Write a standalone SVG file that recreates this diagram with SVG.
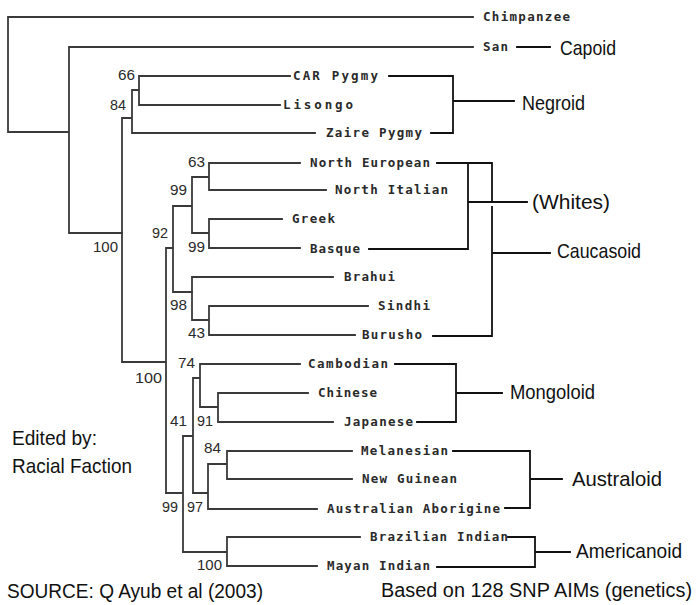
<svg xmlns="http://www.w3.org/2000/svg" width="698" height="605" viewBox="0 0 698 605">
<style>
.tree{fill:none;stroke:#3a3a3a;stroke-width:1.8;stroke-linecap:square}
.br{fill:none;stroke:#111;stroke-width:1.8;stroke-linecap:square}
.leaf{font-family:"DejaVu Sans Mono","Liberation Mono",monospace;font-size:12.5px;font-weight:bold;fill:#2a2a2a}
.num{font-family:"Liberation Sans","DejaVu Sans",sans-serif;font-size:14px;fill:#2a2a2a}
.grp{font-family:"Liberation Sans","DejaVu Sans",sans-serif;font-size:21px;fill:#111}
.note{font-family:"Liberation Sans","DejaVu Sans",sans-serif;font-size:20px;fill:#111}
</style>
<rect width="698" height="605" fill="#fff"/>
<g id="connectors">
<path class="tree" d="M8,17H473M8,17V132H69M69,47H473M69,47V233H122"/>
<path class="tree" d="M122,118V362M122,118H132M132,90V133M132,90H139M139,76V105M139,76H290M139,105H280M132,133H315"/>
<path class="tree" d="M122,362H166M166,248V493M166,248H173M173,206V292M173,206H192M173,292H192M192,177V233M192,177H209M192,233H209M209,163V190M209,219V248M209,163H300M209,190H326M209,219H282M209,248H300"/>
<path class="tree" d="M192,277V320M192,277H333M192,320H209M209,306V335M209,306H368M209,335H355"/>
<path class="tree" d="M166,493H183M183,436V552M183,436H193M193,378V493M193,378H200M200,364V407M200,364H300M200,407H218M218,393V422M218,393H308M218,422H333"/>
<path class="tree" d="M193,493H208M208,464V509M208,464H227M227,451V479M227,451H352M227,479H352M208,509H317"/>
<path class="tree" d="M183,552H227M227,537V566M227,537H360M227,566H317"/>
<path class="br" d="M517,47H550"/>
<path class="br" d="M389,76H453V133H431M453,101H514"/>
<path class="br" d="M437,163H492V202M492,207V336H433M369,249H468V163M468,202H527M492,253H550"/>
<path class="br" d="M395,364H456V422H417M456,393H502"/>
<path class="br" d="M453,451H530V508H505M530,479H562"/>
<path class="br" d="M508,537H535V567H437M535,552H570"/>
</g>
<g id="leaves">
<g id="chimpanzee"><text class="leaf" x="483" y="21" textLength="87" lengthAdjust="spacing">Chimpanzee</text></g>
<g id="san"><text class="leaf" x="483" y="51" textLength="25" lengthAdjust="spacing">San</text></g>
<g id="car-pygmy"><text class="leaf" x="293" y="80" textLength="85" lengthAdjust="spacing">CAR Pygmy</text></g>
<g id="lisongo"><text class="leaf" x="283" y="109" textLength="70" lengthAdjust="spacing">Lisongo</text></g>
<g id="zaire-pygmy"><text class="leaf" x="326" y="137" textLength="96" lengthAdjust="spacing">Zaire Pygmy</text></g>
<g id="north-european"><text class="leaf" x="310" y="167" textLength="120" lengthAdjust="spacing">North European</text></g>
<g id="north-italian"><text class="leaf" x="335" y="194" textLength="113" lengthAdjust="spacing">North Italian</text></g>
<g id="greek"><text class="leaf" x="292" y="223" textLength="43" lengthAdjust="spacing">Greek</text></g>
<g id="basque"><text class="leaf" x="310" y="253" textLength="50" lengthAdjust="spacing">Basque</text></g>
<g id="brahui"><text class="leaf" x="344" y="281" textLength="51" lengthAdjust="spacing">Brahui</text></g>
<g id="sindhi"><text class="leaf" x="378" y="310" textLength="52" lengthAdjust="spacing">Sindhi</text></g>
<g id="burusho"><text class="leaf" x="362" y="339" textLength="60" lengthAdjust="spacing">Burusho</text></g>
<g id="cambodian"><text class="leaf" x="308" y="368" textLength="80" lengthAdjust="spacing">Cambodian</text></g>
<g id="chinese"><text class="leaf" x="318" y="397" textLength="59" lengthAdjust="spacing">Chinese</text></g>
<g id="japanese"><text class="leaf" x="344" y="426" textLength="69" lengthAdjust="spacing">Japanese</text></g>
<g id="melanesian"><text class="leaf" x="361" y="455" textLength="87" lengthAdjust="spacing">Melanesian</text></g>
<g id="new-guinean"><text class="leaf" x="362" y="483" textLength="95" lengthAdjust="spacing">New Guinean</text></g>
<g id="australian-aborigine"><text class="leaf" x="327" y="513" textLength="173" lengthAdjust="spacing">Australian Aborigine</text></g>
<g id="brazilian-indian"><text class="leaf" x="370" y="541" textLength="138" lengthAdjust="spacing">Brazilian Indian</text></g>
<g id="mayan-indian"><text class="leaf" x="327" y="570" textLength="103" lengthAdjust="spacing">Mayan Indian</text></g>
</g>
<g id="support-values">
<text class="num" x="118" y="80" textLength="17" lengthAdjust="spacingAndGlyphs">66</text>
<text class="num" x="110" y="110" textLength="16" lengthAdjust="spacingAndGlyphs">84</text>
<text class="num" x="93" y="252" textLength="25" lengthAdjust="spacingAndGlyphs">100</text>
<text class="num" x="188" y="167" textLength="17" lengthAdjust="spacingAndGlyphs">63</text>
<text class="num" x="170" y="195" textLength="17" lengthAdjust="spacingAndGlyphs">99</text>
<text class="num" x="152" y="238" textLength="16" lengthAdjust="spacingAndGlyphs">92</text>
<text class="num" x="188" y="252" textLength="17" lengthAdjust="spacingAndGlyphs">99</text>
<text class="num" x="170" y="310" textLength="17" lengthAdjust="spacingAndGlyphs">98</text>
<text class="num" x="188" y="338" textLength="17" lengthAdjust="spacingAndGlyphs">43</text>
<text class="num" x="135" y="383" textLength="27" lengthAdjust="spacingAndGlyphs">100</text>
<text class="num" x="178" y="368" textLength="17" lengthAdjust="spacingAndGlyphs">74</text>
<text class="num" x="170" y="426" textLength="17" lengthAdjust="spacingAndGlyphs">41</text>
<text class="num" x="197" y="426" textLength="16" lengthAdjust="spacingAndGlyphs">91</text>
<text class="num" x="204" y="453" textLength="17" lengthAdjust="spacingAndGlyphs">84</text>
<text class="num" x="162" y="512" textLength="16" lengthAdjust="spacingAndGlyphs">99</text>
<text class="num" x="187" y="512" textLength="16" lengthAdjust="spacingAndGlyphs">97</text>
<text class="num" x="197" y="570" textLength="25" lengthAdjust="spacingAndGlyphs">100</text>
</g>
<g id="groups">
<g id="capoid"><text class="grp" x="560" y="55" textLength="56" lengthAdjust="spacingAndGlyphs">Capoid</text></g>
<g id="negroid"><text class="grp" x="522" y="110" textLength="63" lengthAdjust="spacingAndGlyphs">Negroid</text></g>
<g id="whites"><text class="grp" x="532" y="209" textLength="78" lengthAdjust="spacingAndGlyphs">(Whites)</text></g>
<g id="caucasoid"><text class="grp" x="557" y="258" textLength="84" lengthAdjust="spacingAndGlyphs">Caucasoid</text></g>
<g id="mongoloid"><text class="grp" x="510" y="399" textLength="85" lengthAdjust="spacingAndGlyphs">Mongoloid</text></g>
<g id="australoid"><text class="grp" x="572" y="486" textLength="90" lengthAdjust="spacingAndGlyphs">Australoid</text></g>
<g id="americanoid"><text class="grp" x="576" y="558" textLength="106" lengthAdjust="spacingAndGlyphs">Americanoid</text></g>
</g>
<g id="notes">
<text class="grp" x="12" y="445" textLength="85" lengthAdjust="spacingAndGlyphs">Edited by:</text>
<text class="grp" x="12" y="473" textLength="120" lengthAdjust="spacingAndGlyphs">Racial Faction</text>
<text class="note" x="7" y="598" textLength="256" lengthAdjust="spacingAndGlyphs">SOURCE: Q Ayub et al (2003)</text>
<text class="note" x="381" y="597" textLength="311" lengthAdjust="spacingAndGlyphs">Based on 128 SNP AIMs (genetics)</text>
</g>
</svg>
